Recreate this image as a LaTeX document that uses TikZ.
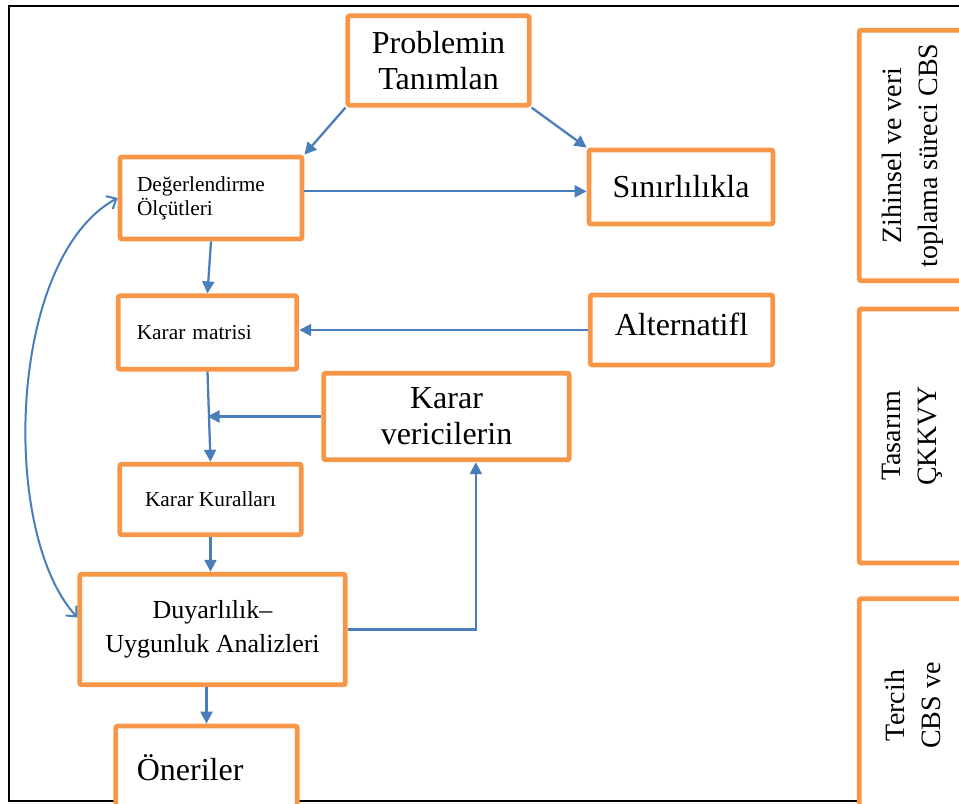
\documentclass[tikz,border=0pt]{standalone}
\usepackage{fontspec}
\setmainfont{Liberation Serif}
\usetikzlibrary{arrows.meta}
\definecolor{boxorange}{RGB}{247,150,70}
\definecolor{arrowblue}{RGB}{74,126,187}

\begin{document}
\begin{tikzpicture}[
  x=0.75pt, y=-0.75pt,
  >={Triangle[length=9pt,width=9pt]},
  every node/.style={inner sep=0pt},
  box/.style={draw=boxorange, line width=3.6pt, fill=white, rounded corners=1.5pt, align=center},
  arr/.style={->, color=arrowblue, line width=1.7pt},
  big/.style={font=\fontsize{24}{27}\selectfont},
  small/.style={font=\fontsize{16}{18}\selectfont},
  side/.style={box, rotate=90, minimum height=80pt, font=\fontsize{21}{27}\selectfont}
]
  \useasboundingbox (0,0) rectangle (959,803);
  \draw[line width=1.5pt] (959,6) -- (9,6) -- (9,801) -- (959,801);

  \node[box, big, minimum width=136pt, minimum height=67pt] (prob) at (438.5,60.5) {Problemin\\Tanımlan};
  \node[box, small, align=left, text width=111pt, inner xsep=12.75pt, minimum height=61.5pt] (deger) at (211,198) {Değerlendirme\\Ölçütleri};
  \node[box, big, minimum width=138pt, minimum height=55.5pt] (sinir) at (681,187) {Sınırlılıkla};
  \node[box, small, align=left, text width=106pt, inner xsep=14pt, minimum height=55pt] (matris) at (207.5,332.5) {Karar matrisi};
  \node[box, big, minimum width=137pt, minimum height=52.5pt, text depth=8pt] (alter) at (681.5,330) {Alternatifl};
  \node[box, big, minimum width=184pt, minimum height=65pt] (verici) at (446.5,416.5) {Karar\\vericilerin};
  \node[box, small, minimum width=136pt, minimum height=53pt] (kural) at (210.5,499.5) {Karar Kuralları};
  \node[box, font=\fontsize{19.5}{25.5}\selectfont, minimum width=199pt, minimum height=83pt] (duyar) at (212.5,629.5) {Duyarlılık–\\Uygunluk Analizleri};
  \node[box, big, align=left, text width=104.5pt, inner xsep=15.75pt, minimum height=63pt] (oneri) at (206.5,768) {Öneriler};

  \node[side, minimum width=188pt] (zihin) at (912.5,155.5) {Zihinsel ve veri\\toplama süreci CBS};
  \node[side, minimum width=190.5pt] (tasar) at (912.5,436) {Tasarım\\ÇKKVY};
  \node[side, minimum width=160pt] (terci) at (912.5,705.5) {Tercih\\CBS ve};

  \draw[arr] (prob.south west) -- (deger.north east);
  \draw[arr] (prob.south east) -- (sinir.north west);
  \coordinate (dE) at ([yshift=5pt]deger.east);
  \draw[arr] (dE) -- (dE -| sinir.west);
  \draw[arr] (deger.south) -- (matris.north);
  \draw[arr] (alter.west) -- (alter.west -| matris.east);
  \draw[arr] (matris.south) -- (kural.north);
  \draw[arr] (verici.west) -- (verici.west -| matris.south);
  \draw[arr] (kural.south) -- (kural.south |- duyar.north);
  \coordinate (vB) at ([xshift=22pt]verici.south);
  \draw[arr] (duyar.east) -| (vB);
  \draw[arr] (duyar.south -| oneri.north) -- (oneri.north);
  \draw[arr, line width=1.5pt, <->, >={Straight Barb[length=6pt,width=11pt]}]
    (deger.west) .. controls +(-110,60) and +(-78,-85) .. ([yshift=9pt]duyar.west);
\end{tikzpicture}
\end{document}
